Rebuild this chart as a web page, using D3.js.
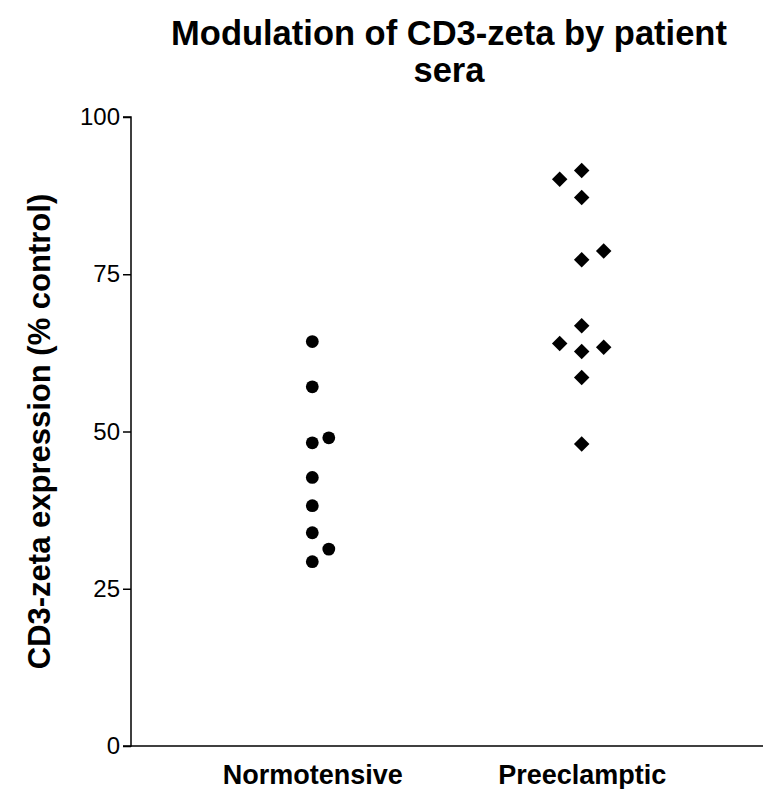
<!DOCTYPE html>
<html>
<head>
<meta charset="utf-8">
<script src="https://cdn.jsdelivr.net/npm/d3@7"></script>
<style>
  body { margin: 0; background: #fff; }
  svg { display: block; }
  text { font-family: "Liberation Sans", Arial, sans-serif; fill: #000; }
</style>
</head>
<body>
<svg id="chart" width="763" height="789"></svg>
<script>
// groups and values
var categories = ["Normotensive", "Preeclamptic"];
var normotensive = [64.3, 57.1, 48.2, 49.0, 42.7, 38.2, 33.9, 31.3, 29.3];
var normoJitter = [0, 0, 0, 1, 0, 0, 0, 1, 0];
var preeclamptic = [91.5, 90.1, 87.2, 78.7, 77.3, 66.8, 64.0, 62.7, 63.4, 58.6, 48.0];
var preJitter = [0, -1, 0, 1, 0, 0, -1, 0, 1, 0, 0];
var yTicks = [0, 25, 50, 75, 100];

var svg = d3.select("#chart"),
    width = +svg.attr("width"),
    height = +svg.attr("height");

var margin = {left: 131, top: 117, right: 0, bottom: 43};

var x = d3.scalePoint()
    .domain(categories)
    .range([margin.left, width - margin.right])
    .padding(0.673);

var y = d3.scaleLinear()
    .domain([0, 100])
    .range([height - margin.bottom, margin.top]);

// y axis
var yAxis = svg.append("g")
    .attr("transform", "translate(" + margin.left + ",0)")
    .call(d3.axisLeft(y).tickValues(yTicks).tickSize(8).tickPadding(3));
yAxis.select(".domain").attr("stroke-width", 1.5).attr("d",
    "M-8," + y(100) + "H0V" + y(0) + "H-8");
yAxis.selectAll(".tick line").attr("stroke-width", 1.5);
yAxis.selectAll(".tick text")
    .style("font-size", "24px")
    .attr("font-family", null);

// x axis, labels only
var xAxis = svg.append("g")
    .attr("transform", "translate(0," + y(0) + ")")
    .call(d3.axisBottom(x).tickSize(0).tickPadding(19));
xAxis.select(".domain").attr("stroke-width", 1.5)
    .attr("d", "M" + margin.left + ",0H" + width);
xAxis.selectAll(".tick text")
    .style("font-size", "27px")
    .style("font-weight", "bold")
    .attr("font-family", null);

// normotensive circles
svg.append("g").selectAll("circle")
    .data(normotensive)
    .enter().append("circle")
    .attr("cx", function (d, i) { return x(categories[0]) + normoJitter[i] * 16.5; })
    .attr("cy", function (d) { return y(d); })
    .attr("r", 6.4)
    .attr("fill", "#000");

// preeclamptic diamonds
var diamond = d3.symbol().type(d3.symbolSquare).size(120);
svg.append("g").selectAll("path")
    .data(preeclamptic)
    .enter().append("path")
    .attr("d", diamond)
    .attr("transform", function (d, i) {
        return "translate(" + (x(categories[1]) + preJitter[i] * 22) + "," + y(d) + ") rotate(45)";
    })
    .attr("fill", "#000");

// title
var title = svg.append("text")
    .attr("text-anchor", "middle")
    .style("font-size", "34.5px")
    .style("font-weight", "bold");
title.append("tspan").attr("x", 449).attr("y", 45).text("Modulation of CD3-zeta by patient");
title.append("tspan").attr("x", 449).attr("y", 82).text("sera");

// y label
svg.append("text")
    .attr("transform", "translate(50," + y(50) + ") rotate(-90)")
    .attr("text-anchor", "middle")
    .style("font-size", "31px")
    .style("font-weight", "bold")
    .text("CD3-zeta expression (% control)");
</script>
</body>
</html>
